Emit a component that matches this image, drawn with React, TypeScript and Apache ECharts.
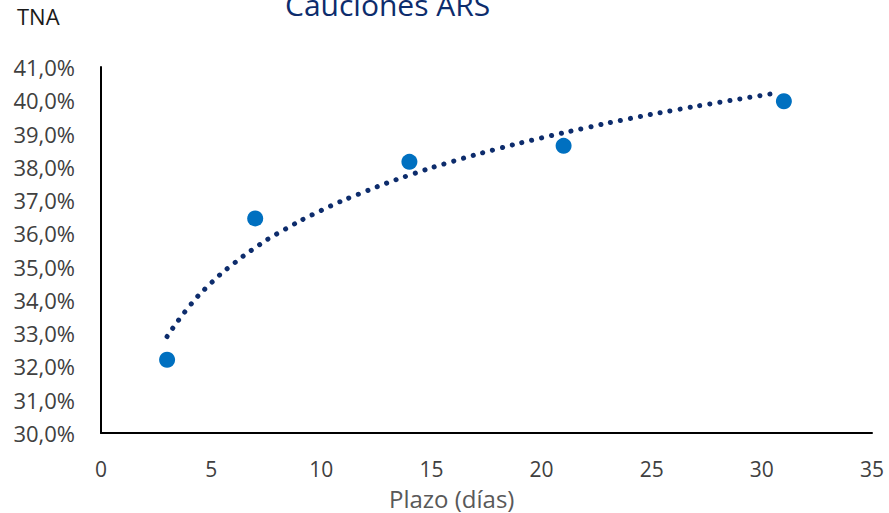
import React, { useEffect, useRef } from "react";
import * as echarts from "echarts";

const plazos = [3, 7, 14, 21, 31];
const tna = [32.2, 36.45, 38.15, 38.63, 39.97];
const trendX = [3, 4, 5, 6, 7, 8, 10, 12, 14, 16, 18, 20, 22, 24, 26, 28, 30.5];
const trendY = [32.9, 33.8, 34.51, 35.08, 35.57, 35.99, 36.69, 37.26, 37.75, 38.17, 38.54, 38.87, 39.17, 39.45, 39.7, 39.93, 40.2];
const titleText = "Cauciones ARS";
const yName = "TNA";
const xName = "Plazo (días)";

const FONT = "'Open Sans', 'Noto Sans', sans-serif";

export default function App() {
  const ref = useRef<HTMLDivElement>(null);
  useEffect(() => {
    document.body.style.margin = "0";
    const chart = echarts.init(ref.current!, null, { renderer: "svg" });
    chart.setOption({
      animation: false,
      backgroundColor: "#ffffff",
      textStyle: { fontFamily: FONT },
      grid: { left: 101, right: 17, top: 67, bottom: 80 },
      xAxis: {
        type: "value",
        min: 0,
        max: 35,
        interval: 5,
        axisLine: { show: true, lineStyle: { color: "#000000", width: 2 } },
        axisTick: { show: false },
        splitLine: { show: false },
        axisLabel: { color: "#404040", fontSize: 21, margin: 25, fontFamily: FONT },
      },
      yAxis: {
        type: "value",
        min: 30,
        max: 41,
        interval: 1,
        axisLine: { show: true, lineStyle: { color: "#000000", width: 2 } },
        axisTick: { show: false },
        splitLine: { show: false },
        axisLabel: {
          color: "#404040",
          fontSize: 22,
          margin: 26,
          fontFamily: FONT,
          formatter: (v: number) => v.toFixed(1).replace(".", ",") + "%",
        },
      },
      graphic: [
        {
          type: "text",
          left: 285,
          top: -11,
          style: { text: titleText, fill: "#0D2C6C", font: `30px ${FONT}` },
        },
        {
          type: "text",
          left: 17,
          top: 5,
          style: { text: yName, fill: "#1a1a1a", font: `22px ${FONT}` },
        },
        {
          type: "text",
          left: 389,
          top: 486,
          style: { text: xName, fill: "#595959", font: `24px ${FONT}` },
        },
      ],
      series: [
        {
          type: "line",
          data: trendX.map((x, i) => [x, trendY[i]]),
          symbol: "none",
          smooth: true,
          lineStyle: { color: "#0D2C6C", width: 5, type: [0.1, 10], cap: "round" },
          z: 2,
        },
        {
          type: "scatter",
          data: plazos.map((x, i) => [x, tna[i]]),
          symbolSize: 16,
          itemStyle: { color: "#0070C0", opacity: 1 },
          z: 3,
        },
      ],
    });
    return () => chart.dispose();
  }, []);
  return <div ref={ref} style={{ width: 889, height: 513 }} />;
}
